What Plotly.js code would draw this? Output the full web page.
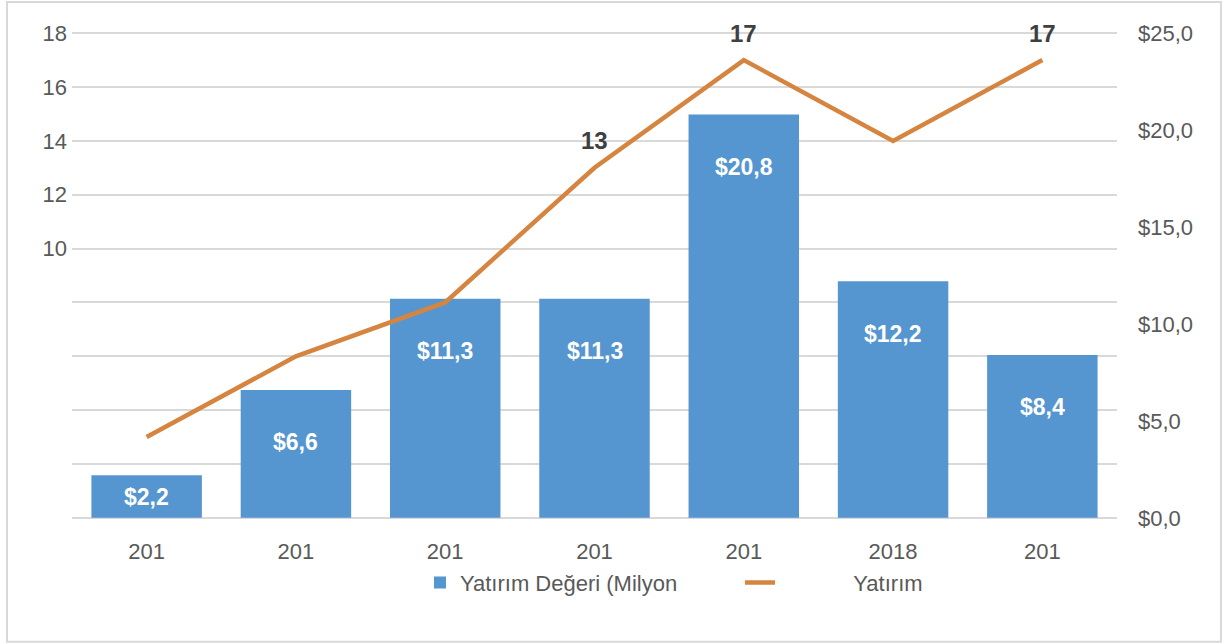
<!DOCTYPE html>
<html>
<head>
<meta charset="utf-8">
<script src="https://cdn.plot.ly/plotly-3.0.1.min.js"></script>
<style>html,body{margin:0;padding:0;background:#fff;}#chart{width:1226px;height:644px;}</style>
</head>
<body>
<div id="chart"></div>
<script>
// ---- data ----
const years = ['2013', '2014', '2015', '2016', '2017', '2018', '2019'];
const xTickLabels = ['201', '201', '201', '201', '201', '2018', '201'];
const investmentValue = [2.2, 6.6, 11.3, 11.3, 20.8, 12.2, 8.4];   // Yatırım Değeri (Milyon $)
const investmentCount = [3, 6, 8, 13, 17, 14, 17];                 // Yatırım
const countLabels = ['', '', '', '13', '17', '', '17'];
const rightTickVals = [0, 5, 10, 15, 20, 25];
const rightTickText = ['$0,0', '$5,0', '$10,0', '$15,0', '$20,0', '$25,0'];
const leftTickVals = [0, 2, 4, 6, 8, 10, 12, 14, 16, 18];
const leftTickText = ['', '', '', '', '', '10', '12', '14', '16', '18'];

const FONT = 'Liberation Sans, Arial, sans-serif';
const GRAY = '#595959';

const fmt = v => '$' + v.toFixed(1).replace('.', ',');
const xPos = years.map((y, i) => i);   // category slots

const barTrace = {
  type: 'bar',
  name: 'Yatırım Değeri (Milyon',
  x: xPos,
  y: investmentValue,
  yaxis: 'y',
  marker: {color: '#5596D0'},
  hoverinfo: 'y'
};

const lineTrace = {
  type: 'scatter',
  mode: 'lines',
  name: '\u00a0'.repeat(12) + 'Yatırım',
  x: xPos,
  y: investmentCount,
  yaxis: 'y2',
  line: {color: '#D5853F', width: 4.5},
  cliponaxis: false
};

const barAnnotations = xPos.map((xp, i) => ({
  x: xp,
  y: investmentValue[i] - Math.min(2.7, investmentValue[i] / 2),
  xref: 'x', yref: 'y',
  text: '<b>' + fmt(investmentValue[i]) + '</b>',
  showarrow: false,
  font: {family: FONT, size: 23, color: '#ffffff'}
}));

const countAnnotations = xPos
  .map((xp, i) => ({xp, i}))
  .filter(o => countLabels[o.i] !== '')
  .map(o => ({
    x: o.xp,
    y: investmentCount[o.i],
    xref: 'x', yref: 'y2',
    text: '<b>' + countLabels[o.i] + '</b>',
    showarrow: false,
    yshift: 27,
    font: {family: FONT, size: 24, color: '#404040'}
  }));

const layout = {
  width: 1226,
  height: 644,
  margin: {l: 72, r: 109, t: 31, b: 124},
  paper_bgcolor: '#ffffff',
  plot_bgcolor: '#ffffff',
  font: {family: FONT, size: 22, color: GRAY},
  bargap: 0.26,
  showlegend: true,
  legend: {
    orientation: 'h',
    x: 0.333, xanchor: 'left',
    y: -0.128, yanchor: 'middle',
    entrywidth: 275, entrywidthmode: 'pixels',
    font: {family: FONT, size: 22, color: GRAY},
    bgcolor: 'rgba(0,0,0,0)'
  },
  xaxis: {
    type: 'linear',
    range: [-0.5, years.length - 0.5],
    tickvals: xPos,
    ticktext: xTickLabels,
    tickangle: 0,
    ticks: '',
    showline: false,
    showgrid: false,
    zeroline: false,
    tickfont: {family: FONT, size: 22, color: GRAY},
    ticklabelstandoff: 16,
    fixedrange: true
  },
  yaxis: {
    side: 'right',
    range: [-0.11, 25.11],
    tickvals: rightTickVals,
    ticktext: rightTickText,
    showgrid: false,
    zeroline: false,
    showline: false,
    ticks: '',
    tickfont: {family: FONT, size: 22, color: GRAY},
    ticklabelstandoff: 20,
    fixedrange: true
  },
  yaxis2: {
    overlaying: 'y',
    side: 'left',
    range: [-0.08, 18.08],
    tickvals: leftTickVals,
    ticktext: leftTickText,
    showgrid: true,
    gridcolor: '#d9d9d9',
    gridwidth: 2,
    zeroline: false,
    showline: false,
    ticks: '',
    tickfont: {family: FONT, size: 22, color: GRAY},
    ticklabelstandoff: 4,
    fixedrange: true
  },
  annotations: barAnnotations.concat(countAnnotations),
  shapes: [{
    type: 'rect',
    xref: 'paper', yref: 'paper',
    x0: -0.0622, x1: 1.0995, y0: -0.2490, y1: 1.0595,
    line: {color: '#d9d9d9', width: 2},
    fillcolor: 'rgba(0,0,0,0)',
    layer: 'below'
  }]
};

Plotly.newPlot('chart', [barTrace, lineTrace], layout, {displayModeBar: false, staticPlot: true});
</script>
</body>
</html>
